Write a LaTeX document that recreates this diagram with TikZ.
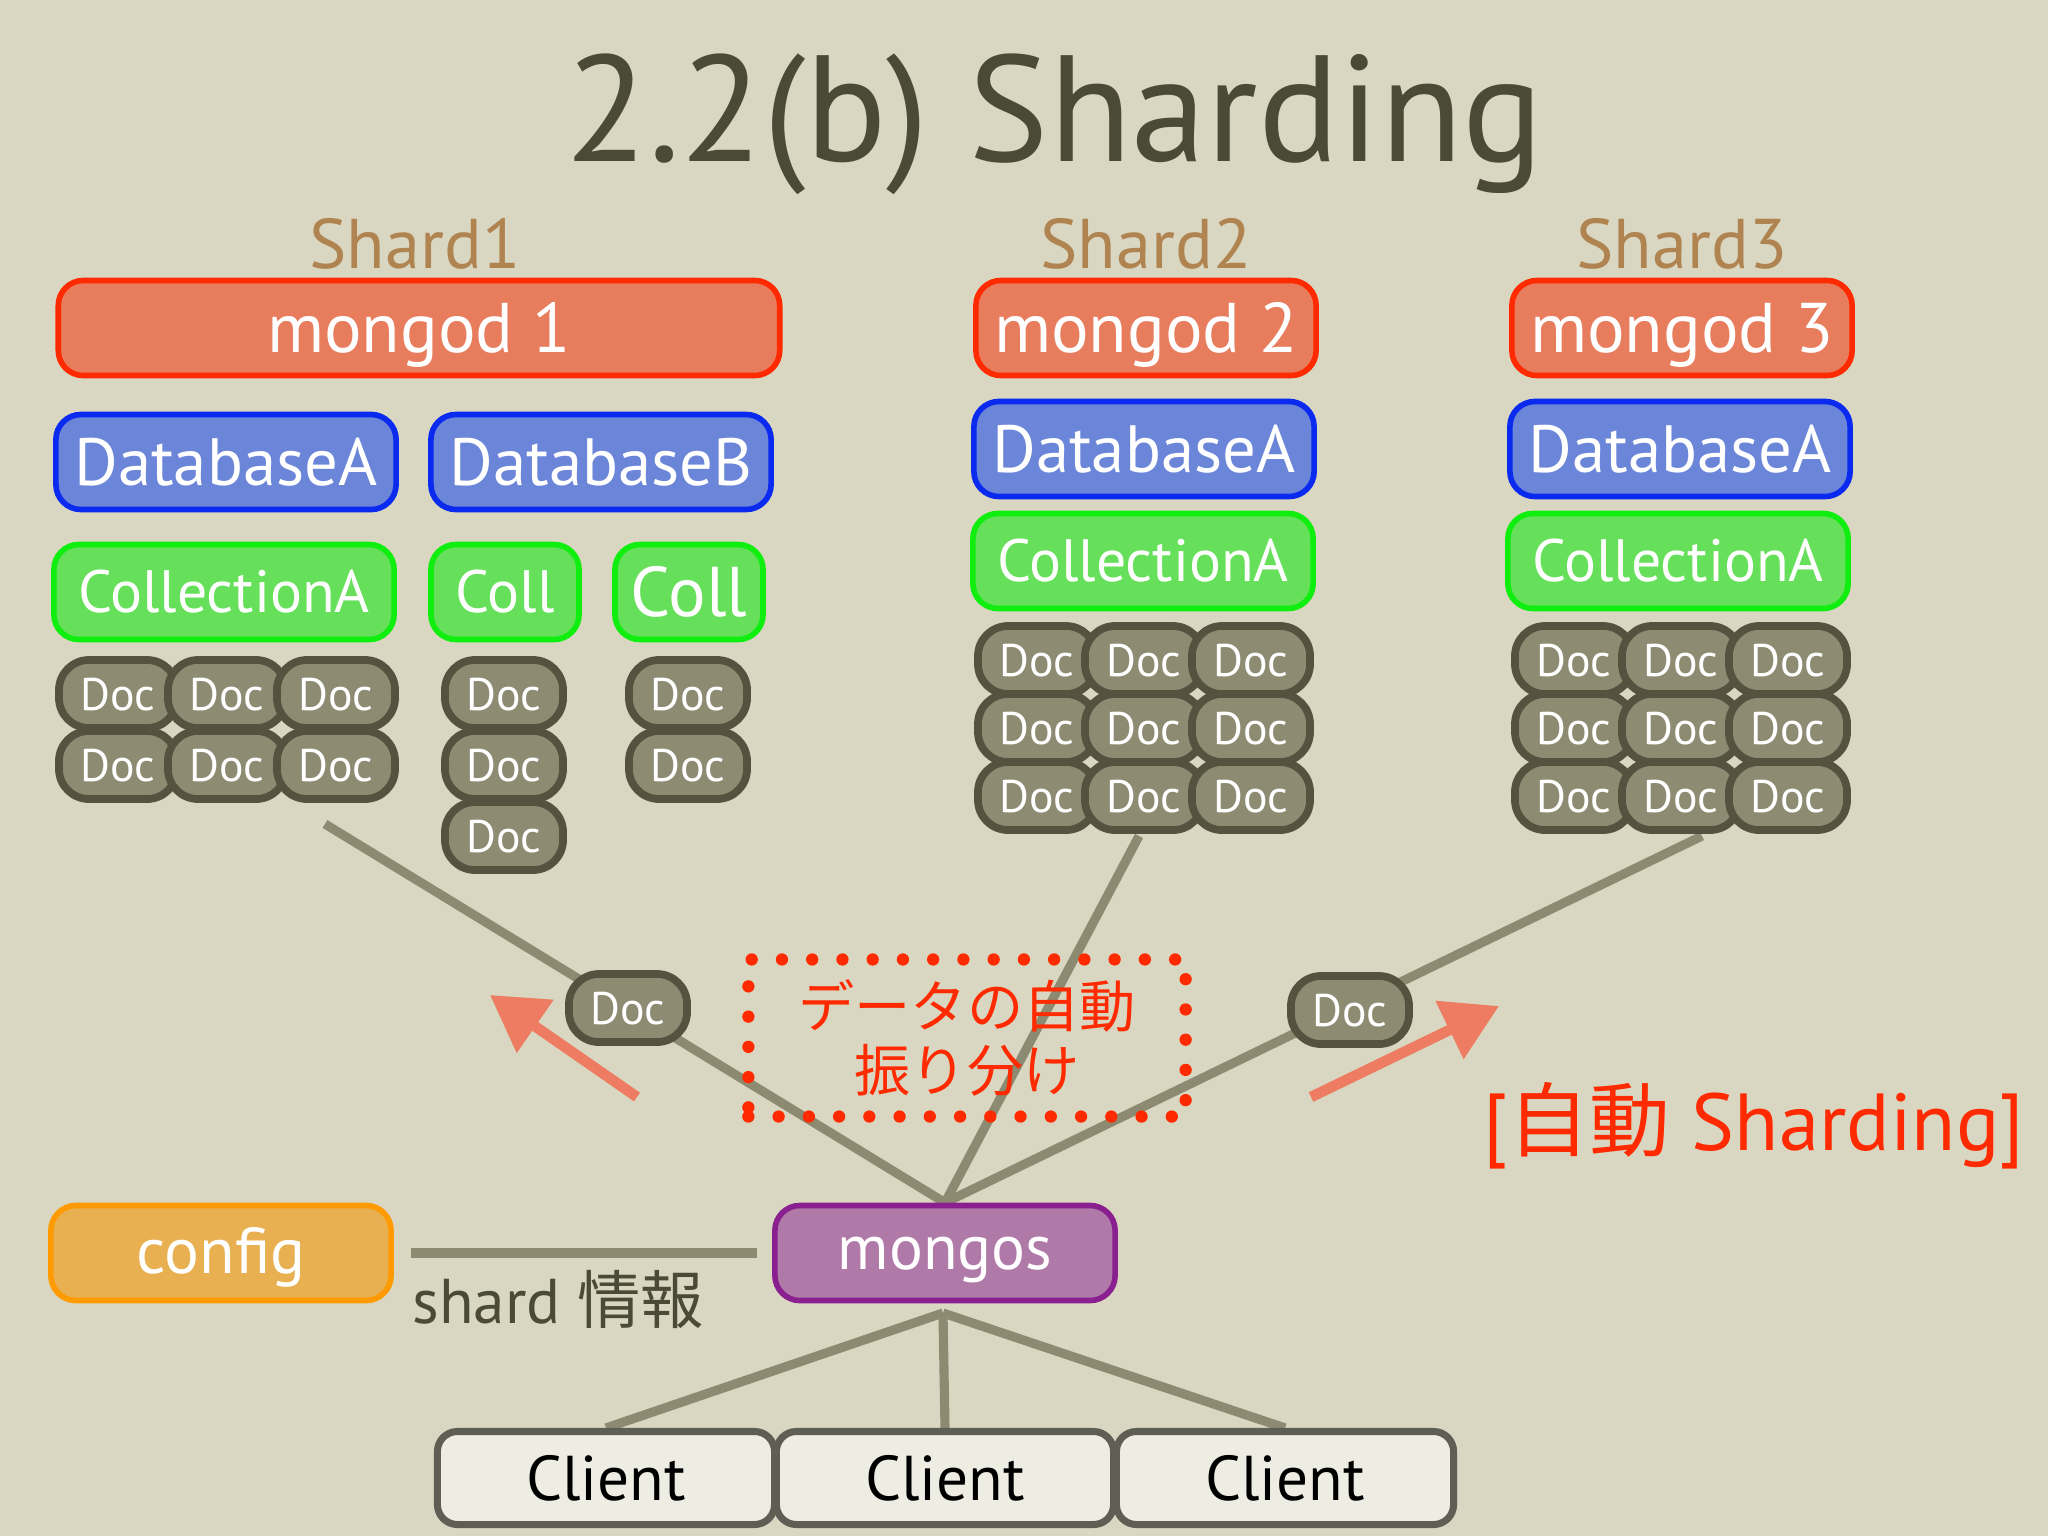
\documentclass[tikz,border=0pt]{standalone}
\usepackage{fontspec}
\setmainfont{PT Sans}
\newfontfamily\cjk{Noto Sans CJK JP}
\usetikzlibrary{arrows.meta,positioning,backgrounds}
\definecolor{paper}{HTML}{D9D7C1}
\definecolor{ink}{HTML}{4A4A36}
\definecolor{brown}{HTML}{B08450}
\definecolor{mgdline}{HTML}{FF2A00}
\definecolor{mgdfill}{HTML}{E87D5E}
\definecolor{dbline}{HTML}{0A2AF0}
\definecolor{dbfill}{HTML}{6B85D8}
\definecolor{colline}{HTML}{10EE10}
\definecolor{colfill}{HTML}{66E05A}
\definecolor{docline}{HTML}{575240}
\definecolor{docfill}{HTML}{8E8B73}
\definecolor{cfgline}{HTML}{FF9A00}
\definecolor{cfgfill}{HTML}{E8B050}
\definecolor{mgsline}{HTML}{8A2090}
\definecolor{mgsfill}{HTML}{B07AA8}
\definecolor{clifill}{HTML}{EDEDE4}
\definecolor{cliline}{HTML}{5E5E55}
\definecolor{wire}{HTML}{8C8A70}
\definecolor{salmon}{HTML}{EE7C62}
\newcommand\fsize[1]{\fontsize{#1}{1.15\dimexpr#1\relax}\selectfont}

\begin{document}
\begin{tikzpicture}[x=0.01cm,y=-0.01cm,
  b/.style={draw,rounded corners=0.25cm,line width=1.6pt,text=white,minimum height=0.95cm,minimum width=3.4cm,inner sep=0pt,text height=14pt,text depth=0pt,font=\fsize{20pt}},
  mgd/.style={b,draw=mgdline,fill=mgdfill},
  db/.style={b,draw=dbline,fill=dbfill,text height=13.3pt,font=\fsize{19pt}},
  coll/.style={b,draw=colline,fill=colfill,text height=11.9pt,font=\fsize{17pt}},
  doc/.style={b,draw=docline,fill=docfill,line width=2.2pt,rounded corners=0.3cm,minimum width=1.18cm,minimum height=0.68cm,text height=9.1pt,font=\fsize{13pt}},
  cli/.style={b,draw=cliline,fill=clifill,text=black,line width=2pt,rounded corners=0.2cm,minimum width=3.37cm,minimum height=0.93cm,text height=12.6pt,font=\fsize{18pt}},
  lbl/.style={text=brown,font=\fsize{20pt}},
  ln/.style={wire,line width=2.6pt},
  arr/.style={salmon,line width=3pt,-{Triangle[length=0.55cm,width=0.62cm]}}]
\useasboundingbox (0,0) rectangle (2048,1536);
\node[text=ink,font=\fsize{43pt},text height=30pt,text depth=0pt] (title) at (1055,109) {2.2(b) Sharding};
% shards
\node[mgd,minimum width=7.21cm] (m1) at (419,328) {mongod 1};
\node[mgd] (m2) at (1146,328) {mongod 2};
\node[mgd] (m3) at (1682,328) {mongod 3};
\node[lbl] (s1) at (415,244) {Shard1};
\node[lbl] (s2) at (1146,244) {Shard2};
\node[lbl] (s3) at (1682,244) {Shard3};
\node[db] (dba1) at (226,462) {DatabaseA};
\node[db] (dbb1) at (601,462) {DatabaseB};
\node[db] (dba2) at (1144,449) {DatabaseA};
\node[db] (dba3) at (1680,449) {DatabaseA};
\node[coll] (ca1) at (224,592) {CollectionA};
\node[coll,minimum width=1.48cm] (cb1) at (505,592) {Coll};
\node[coll,minimum width=1.48cm,text height=14pt,font=\fsize{20pt}] (cb2) at (689,592) {Coll};
\node[coll] (ca2) at (1143,561) {CollectionA};
\node[coll] (ca3) at (1678,561) {CollectionA};
% documents
\node[doc] (a1) at (118,694) {Doc}; \node[doc] (a2) at (227,694) {Doc}; \node[doc] (a3) at (336,694) {Doc};
\node[doc] (a4) at (118,765) {Doc}; \node[doc] (a5) at (227,765) {Doc}; \node[doc] (a6) at (336,765) {Doc};
\node[doc] (b1) at (504,694) {Doc}; \node[doc] (b2) at (504,765) {Doc}; \node[doc] (b3) at (504,836) {Doc};
\node[doc] (e1) at (688,694) {Doc}; \node[doc] (e2) at (688,765) {Doc};
\node[doc] (p1) at (1037,660) {Doc}; \node[doc] (p2) at (1144,660) {Doc}; \node[doc] (p3) at (1251,660) {Doc};
\node[doc] (p4) at (1037,728) {Doc}; \node[doc] (p5) at (1144,728) {Doc}; \node[doc] (p6) at (1251,728) {Doc};
\node[doc] (p7) at (1037,796) {Doc}; \node[doc] (p8) at (1144,796) {Doc}; \node[doc] (p9) at (1251,796) {Doc};
\node[doc] (q1) at (1574,660) {Doc}; \node[doc] (q2) at (1681,660) {Doc}; \node[doc] (q3) at (1788,660) {Doc};
\node[doc] (q4) at (1574,728) {Doc}; \node[doc] (q5) at (1681,728) {Doc}; \node[doc] (q6) at (1788,728) {Doc};
\node[doc] (q7) at (1574,796) {Doc}; \node[doc] (q8) at (1681,796) {Doc}; \node[doc] (q9) at (1788,796) {Doc};
% routing
\node[b,draw=cfgline,fill=cfgfill,text height=11.5pt,font=\fsize{18.5pt}] (cfg) at (221,1253) {config};
\node[b,draw=mgsline,fill=mgsfill,text height=9.5pt,font=\fsize{18pt}] (mgs) at (945,1253) {mongos};
\node[cli] (cl1) at (606,1478) {Client};
\node[cli] (cl2) at (945,1478) {Client};
\node[cli] (cl3) at (1285,1478) {Client};
\node[doc] (mv1) at (628,1008) {Doc};
\node[doc] (mv2) at (1350,1010) {Doc};
\node[draw=mgdline,line width=3.5pt,line cap=round,dash pattern=on 0pt off 8.6pt,minimum width=4.37cm,minimum height=1.57cm,align=center,text=mgdline,font=\cjk\fsize{16pt}] (auto) at (967,1038) {データの自動\\振り分け};
\node[text=mgdline,font=\fsize{23pt}] (tag) at (1754,1126) {[{\cjk 自動} Sharding]};
\coordinate (t1) at (325,824); \coordinate (t2) at (1139,836); \coordinate (t3) at (1702,836);
\coordinate (hub) at (943,1313);
\coordinate (la1) at (637,1097); \coordinate (la2) at (490,995);
\coordinate (ra1) at (1311,1097); \coordinate (ra2) at (1499,1006);
\draw[arr] (la1)--(la2); \draw[arr] (ra1)--(ra2);
\begin{scope}[on background layer]
\fill[paper] (0,0) rectangle (2048,1536);
\draw[ln] (mgs.north)--(t1); \draw[ln] (mgs.north)--(t2); \draw[ln] (mgs.north)--(t3);
\draw[ln,line width=3pt,shorten <=0.17cm,shorten >=0.15cm] (cfg)--node[pos=0.435,below,text=ink,font=\fsize{18pt}] (info) {shard {\cjk 情報}} (mgs);
\draw[ln] (hub)--(cl1.north); \draw[ln] (hub)--(cl2.north); \draw[ln] (hub)--(cl3.north);
\end{scope}
\end{tikzpicture}
\end{document}
